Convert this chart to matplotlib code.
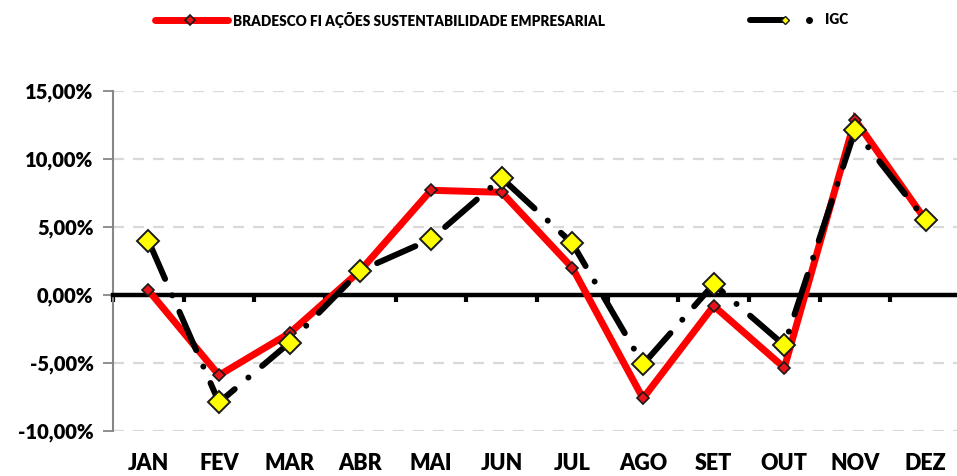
import matplotlib
matplotlib.use('Agg')
import matplotlib.pyplot as plt
from matplotlib.ticker import FuncFormatter
from matplotlib.lines import Line2D

meses = ['JAN', 'FEV', 'MAR', 'ABR', 'MAI', 'JUN', 'JUL', 'AGO', 'SET', 'OUT', 'NOV', 'DEZ']
bradesco = [0.35, -5.9, -2.8, 1.8, 7.7, 7.55, 2.0, -7.6, -0.8, -5.35, 12.9, 5.5]
igc = [4.0, -7.9, -3.5, 1.8, 4.1, 8.6, 3.8, -5.1, 0.8, -3.7, 12.1, 5.5]
nome_fundo = 'BRADESCO FI AÇÕES SUSTENTABILIDADE EMPRESARIAL'
nome_indice = 'IGC'

plt.rcParams['font.family'] = ['Lato', 'DejaVu Sans']

W, H = 957, 476
fig = plt.figure(figsize=(W / 100, H / 100), dpi=100)
ax = fig.add_axes([113 / W, 1 - 431 / H, 848 / W, 340 / H])

x = list(range(len(meses)))

# serie do fundo
ax.plot(x, bradesco, color='#ff0000', lw=5, solid_joinstyle='miter', zorder=4)
ax.plot(x, bradesco, ls='none', marker='D', ms=6, mfc='#e8141a', mec='#1a1a1a', mew=1.2, zorder=5)

# serie do IGC (traço-ponto)
ax.plot(x, igc, color='black', lw=4.3, ls=(0, (7.0, 3.0, 0.01, 3.0)),
        dash_capstyle='round', zorder=6)
ax.plot(x, igc, ls='none', marker='D', ms=11.5, mfc='#ffff00', mec='#1a1a1a', mew=1.4, zorder=7)

ax.set_xlim(-0.5, len(meses) - 0.5)
ax.set_ylim(-10, 15)
ax.set_yticks([-10, -5, 0, 5, 10, 15])
ax.yaxis.set_major_formatter(FuncFormatter(lambda v, p: ('%.2f' % v).replace('.', ',') + '%'))
ax.tick_params(axis='y', labelsize=14.5, length=7, width=1.3, color='#868686', pad=7)
for t in ax.get_yticklabels():
    t.set_fontweight('heavy')

for v in [-10, -5, 5, 10, 15]:
    ax.axhline(v, color='#d9d9d9', lw=1.6, ls=(0, (5, 4)), zorder=1)

for s in ['top', 'right']:
    ax.spines[s].set_visible(False)
ax.spines['left'].set_color('#868686')
ax.spines['left'].set_linewidth(1.5)
ax.spines['bottom'].set_position(('data', 0))
ax.spines['bottom'].set_linewidth(3.2)
ax.spines['bottom'].set_color('black')
ax.spines['bottom'].set_zorder(3)

ax.set_xticks([i - 0.5 for i in range(len(meses) + 1)])
ax.set_xticklabels([])
ax.tick_params(axis='x', length=5, width=3, color='black', direction='out')

for i, m in enumerate(meses):
    ax.text(i, -0.095, m, transform=ax.get_xaxis_transform(), ha='center', va='center',
            fontsize=15.5, fontweight='heavy')

# legenda (desenhada à mão, em pixels da figura)
def fx(px):
    return px / W

ly = 1 - 20 / H
fig.add_artist(Line2D([fx(155), fx(228)], [ly, ly], color='#ff0000', lw=5,
                      solid_capstyle='round', transform=fig.transFigure))
fig.add_artist(Line2D([fx(190)], [ly], marker='D', ms=5, mfc='#e8141a', mec='#1a1a1a',
                      mew=1.2, transform=fig.transFigure))
fig.text(fx(233), ly, nome_fundo, ha='left', va='center', fontsize=9.8, fontweight='heavy')

fig.add_artist(Line2D([fx(750), fx(785)], [ly, ly], color='black', lw=4.3,
                      solid_capstyle='round', transform=fig.transFigure))
fig.add_artist(Line2D([fx(785)], [ly], marker='D', ms=4, mfc='#ffff00', mec='#1a1a1a',
                      mew=1.0, transform=fig.transFigure))
fig.add_artist(Line2D([fx(809)], [ly], marker='o', ms=4, color='black',
                      transform=fig.transFigure))
fig.text(fx(825), ly, nome_indice, ha='left', va='center', fontsize=9.8, fontweight='heavy')

fig.savefig('out.png', dpi=100)
